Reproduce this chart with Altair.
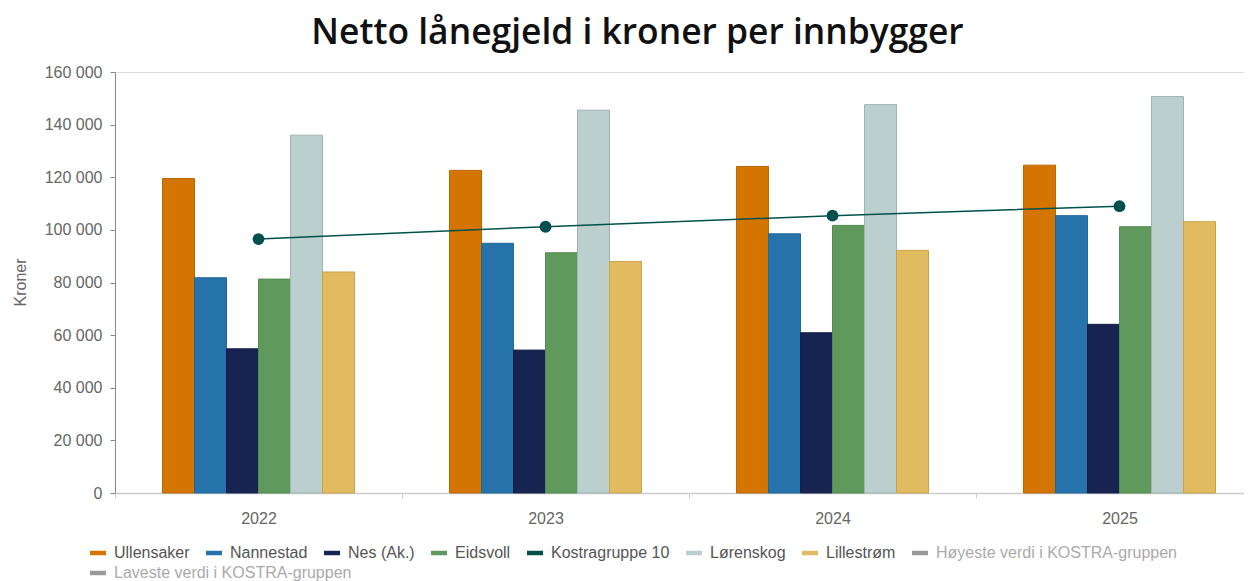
import altair as alt
import pandas as pd

years = ["2022", "2023", "2024", "2025"]
bar_series = ["Ullensaker", "Nannestad", "Nes (Ak.)", "Eidsvoll", "Lørenskog", "Lillestrøm"]
ullensaker = [119500, 122600, 124100, 124600]
nannestad = [81800, 94900, 98500, 105400]
nes = [54800, 54300, 60900, 64100]
eidsvoll = [81300, 91300, 101700, 101200]
lorenskog = [136000, 145500, 147600, 150700]
lillestrom = [84000, 88000, 92200, 103100]
kostragruppe = [96500, 101200, 105400, 109000]

legend_row1 = ["Ullensaker", "Nannestad", "Nes (Ak.)", "Eidsvoll", "Kostragruppe 10",
               "Lørenskog", "Lillestrøm", "Høyeste verdi i KOSTRA-gruppen"]
legend_row1_colors = ["#d37500", "#2573aa", "#172451", "#5f995c", "#00504d",
                      "#bccfcf", "#e2bb60", "#999999"]
legend_row2 = ["Laveste verdi i KOSTRA-gruppen"]
legend_row2_colors = ["#999999"]
bar_strokes = ["#b96700", "#21679a", "#141f47", "#558a53", "#9fb4b2", "#c9a24a"]
y_ticks = [0, 20000, 40000, 60000, 80000, 100000, 120000, 140000, 160000]

bar_values = [ullensaker, nannestad, nes, eidsvoll, lorenskog, lillestrom]
bars_df = pd.DataFrame([
    {"year": y, "series": s, "value": v}
    for s, vals in zip(bar_series, bar_values)
    for y, v in zip(years, vals)
])
line_df = pd.DataFrame({"year": years, "value": kostragruppe})
row2_df = pd.DataFrame({"series": legend_row2})

legend_common = dict(
    title=None, orient="none", direction="horizontal", gridAlign="none",
    symbolType="M-1,-0.28L1,-0.28L1,0.28L-1,0.28Z", symbolSize=256,
    symbolStrokeWidth=0, symbolOpacity=1,
    labelFont="Liberation Sans", labelFontSize=16,
    labelColor=alt.ExprRef("indexof(datum.label, 'KOSTRA') >= 0 ? '#aaaaaa' : '#555555'"),
    labelOffset=8, columnPadding=16, rowPadding=4, labelLimit=400,
)

x_enc = alt.X(
    "year:N",
    scale=alt.Scale(domain=years, range=[0, 1148], paddingInner=0, paddingOuter=0),
    axis=alt.Axis(
        title=None, labelAngle=0, labelFont="Liberation Sans", labelFontSize=16,
        labelColor="#666666", labelPadding=12, tickBand="extent", tickSize=5,
        tickColor="#cccccc", domainColor="#cccccc", domainWidth=1.5, grid=False,
    ),
)
y_enc = alt.Y(
    "value:Q",
    scale=alt.Scale(domain=[0, 160000], nice=False),
    axis=alt.Axis(
        title="Kroner", values=y_ticks,
        labelExpr="replace(format(datum.value, ','), ',', ' ')",
        labelFont="Liberation Sans", labelFontSize=16, labelColor="#666666",
        labelPadding=8, tickSize=5, tickColor="#888888", domainColor="#888888",
        grid=False, titleFont="Liberation Sans", titleFontSize=16,
        titleFontWeight="normal", titleColor="#666666", titleX=-95, titleY=210,
        titleAngle=270, titleBaseline="middle", titleAlign="center",
    ),
)

bars = alt.Chart(bars_df).mark_bar(strokeWidth=1).encode(
    x=x_enc,
    xOffset=alt.XOffset("series:N", scale=alt.Scale(domain=bar_series, range=[47.5, 239.5], paddingInner=0, paddingOuter=0)),
    y=y_enc,
    color=alt.Color(
        "series:N",
        scale=alt.Scale(domain=legend_row1, range=legend_row1_colors),
        legend=alt.Legend(legendX=-25, legendY=473, columns=8, **legend_common),
    ),
    stroke=alt.Stroke("series:N", scale=alt.Scale(domain=bar_series, range=bar_strokes), legend=None),
)

line = alt.Chart(line_df).mark_line(color="#00504d", strokeWidth=1.5).encode(
    x=alt.X("year:N"), y=alt.Y("value:Q")
)
points = alt.Chart(line_df).mark_point(filled=True, size=140, color="#00504d", opacity=1).encode(
    x=alt.X("year:N"), y=alt.Y("value:Q")
)
row2 = alt.Chart(row2_df).mark_point(filled=True, size=0, opacity=0).encode(
    fill=alt.Fill(
        "series:N",
        scale=alt.Scale(domain=legend_row2, range=legend_row2_colors),
        legend=alt.Legend(legendX=-25, legendY=493, columns=1, **legend_common),
    ),
)

chart = alt.layer(bars, line, points, row2).properties(
    width=1129,
    height=421,
    title=alt.TitleParams(
        "Netto lånegjeld i kroner per innbygger", font="Open Sans", fontSize=35.4,
        fontWeight=600, color="#111111", anchor="middle", frame="group",
        baseline="alphabetic", offset=-15, dx=-42,
    ),
    autosize=alt.AutoSizeParams(type="none"),
    padding={"left": 107, "top": 64, "right": 0, "bottom": 90},
).configure_view(stroke=None).configure(font="Liberation Sans")

chart.save("out.html", embed_options={"renderer": "svg", "actions": False})
